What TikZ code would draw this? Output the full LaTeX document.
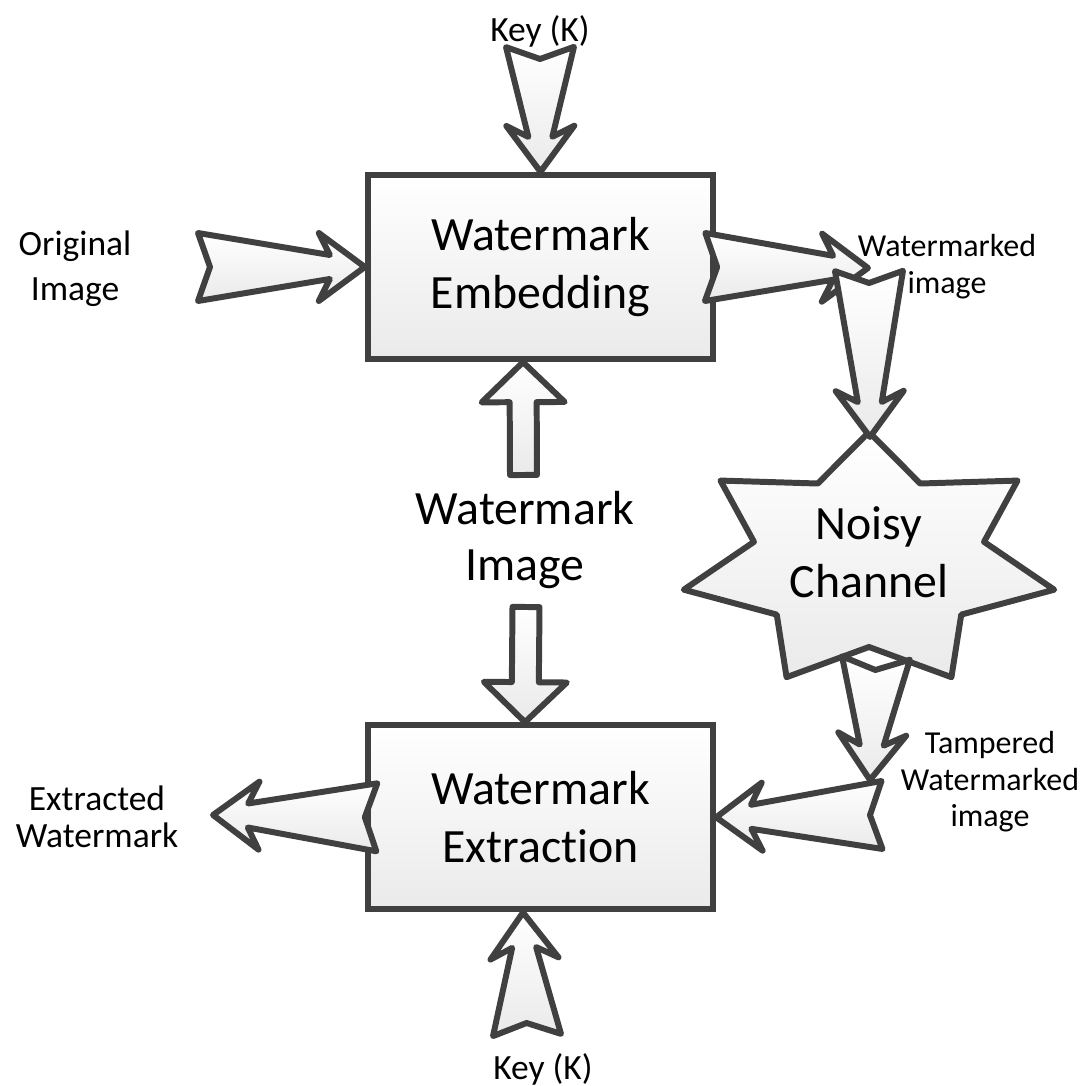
\documentclass[tikz,border=0pt]{standalone}
\usepackage{fontspec}
\setmainfont{Carlito}[Ligatures=NoCommon]
\usepackage{tikz}
\usetikzlibrary{calc,positioning}

\definecolor{edgegray}{HTML}{404040}
\definecolor{fillgray}{HTML}{EAEAEA}

\tikzset{
  procbox/.style={draw=edgegray, line width=1.8pt, top color=white, bottom color=fillgray,
    minimum width=3.45cm, minimum height=1.84cm, align=center, font=\fontsize{13.6}{16.6}\selectfont},
  bigarrow/.style={draw=edgegray, line width=1.7pt, line join=round, top color=white, bottom color=fillgray},
  lbl/.style={align=center, inner sep=0pt},
}

% notched, tapering block arrow from #1 (tail) to #2 (tip)
\newcommand{\notcharrow}[2]{%
  \draw[bigarrow] let \p1=(#1), \p2=(#2), \n1={atan2(\y2-\y1,\x2-\x1)}, \n2={veclen(\x2-\x1,\y2-\y1)} in
    [shift={(\p1)}, rotate=\n1]
    (0cm,0.34cm) -- (\n2-0.35cm,0.12cm) -- (\n2-0.46cm,0.34cm) -- (\n2,0cm)
    -- (\n2-0.46cm,-0.34cm) -- (\n2-0.35cm,-0.12cm) -- (0cm,-0.34cm) -- (0.12cm,0cm) -- cycle;}

% plain block arrow from #1 (tail) to #2 (tip)
\newcommand{\blockarrow}[2]{%
  \draw[bigarrow] let \p1=(#1), \p2=(#2), \n1={atan2(\y2-\y1,\x2-\x1)}, \n2={veclen(\x2-\x1,\y2-\y1)} in
    [shift={(\p1)}, rotate=\n1]
    (0cm,0.135cm) -- (\n2-0.40cm,0.135cm) -- (\n2-0.40cm,0.415cm) -- (\n2,0cm)
    -- (\n2-0.40cm,-0.415cm) -- (\n2-0.40cm,-0.135cm) -- (0cm,-0.135cm) -- cycle;}

\begin{document}
\begin{tikzpicture}
  \useasboundingbox (0,0) rectangle (10.90,-10.86);

  % the two processing blocks
  \node[procbox] (embed) at (5.405,-2.67) {Watermark\\Embedding};
  \node[procbox, below=3.6cm of embed] (extract) {Watermark\\Extraction};

  % noisy channel star
  \coordinate (chanc) at (8.69,-5.61);
  \draw[bigarrow] ([shift={(chanc)}]90:1.90 and 1.29)
    \foreach \k [evaluate=\k as \ai using 90+(\k-0.5)*360/7,
                 evaluate=\k as \ao using 90+\k*360/7] in {1,...,7} {
      -- ([shift={(chanc)}]\ai:1.18 and 0.86)
      -- ([shift={(chanc)}]\ao:1.90 and 1.29)
    } -- cycle;
  \node[lbl, font=\fontsize{13.6}{16.6}\selectfont] (chan) at (8.69,-5.52) {Noisy\\Channel};

  % end points of the arrows
  \coordinate (keytail) at (5.40,-0.47);
  \coordinate (origtail) at (1.98,-2.67);
  \coordinate (wmdtip) at (8.68,-2.68);
  \coordinate (chantail) at (8.69,-2.71);
  \coordinate (chantop) at ($(chanc)+(0.01,1.24)$);
  \coordinate (chanbot) at ($(chanc)+(0.07,-0.97)$);
  \coordinate (tamptip) at (8.70,-7.80);
  \coordinate (tamptail) at (8.82,-8.15);
  \coordinate (extdtip) at (2.13,-8.15);
  \coordinate (keybtail) at (5.27,-10.35);
  \coordinate (wmuptail) at (5.235,-4.75);
  \coordinate (wmdntail) at (5.26,-6.07);

  \notcharrow{keytail}{embed.north}
  \notcharrow{origtail}{embed.west}
  \notcharrow{[xshift=-1.1mm]embed.east}{wmdtip}
  \notcharrow{chantail}{chantop}
  \notcharrow{chanbot}{tamptip}
  \notcharrow{tamptail}{extract.east}
  \notcharrow{[xshift=1.2mm]extract.west}{extdtip}
  \notcharrow{keybtail}{[xshift=-1.75mm]extract.south}
  \blockarrow{wmuptail}{[xshift=-1.75mm]embed.south}
  \blockarrow{wmdntail}{[xshift=-1.55mm]extract.north}

  % labels
  \node[lbl, font=\fontsize{10.1}{12}\selectfont] (keytop) at (5.40,-0.31) {Key (K)};
  \node[lbl, font=\fontsize{10.1}{12}\selectfont] (keybot) at (5.43,-10.69) {Key (K)};
  \node[lbl, font=\fontsize{10.1}{12.8}\selectfont] (orig) at (0.75,-2.69) {Original\\Image};
  \node[lbl, font=\fontsize{10.1}{10.6}\selectfont] (extd) at (0.97,-8.17) {Extracted\\Watermark};
  \node[lbl, font=\fontsize{9.1}{10.5}\selectfont] (wmd) at (9.47,-2.67) {Watermarked\\image};
  \node[lbl, font=\fontsize{9.1}{10.4}\selectfont] (tamp) at (9.90,-7.82) {Tampered\\Watermarked\\image};
  \node[lbl, font=\fontsize{13.6}{16.2}\selectfont] (wmimg) at (5.25,-5.40) {Watermark\\Image};
\end{tikzpicture}
\end{document}
